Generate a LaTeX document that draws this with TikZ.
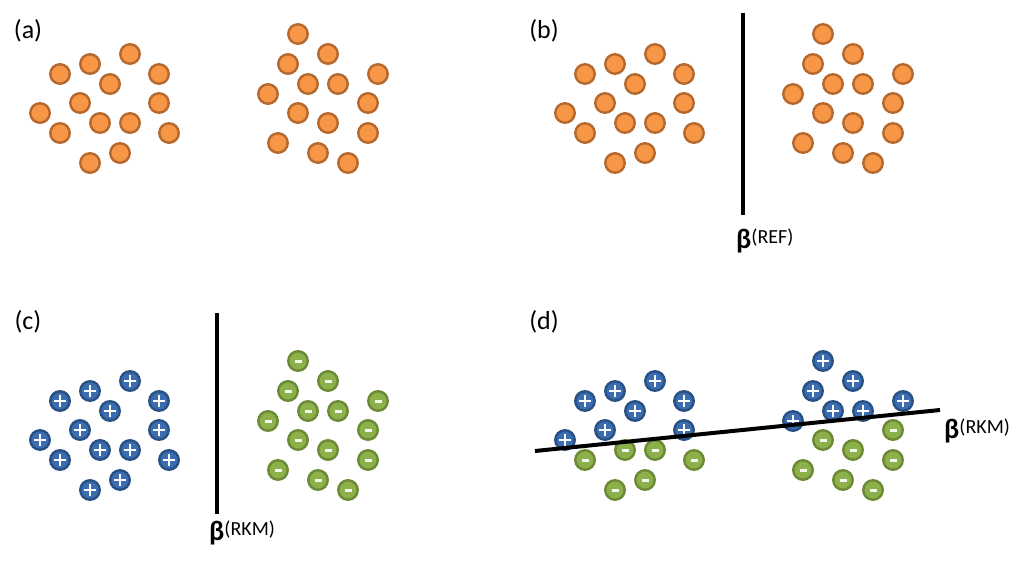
\documentclass[tikz,border=0pt]{standalone}
\usepackage{fontspec}
\setmainfont{Carlito}
\definecolor{ballfill}{HTML}{F79646}
\definecolor{balledge}{HTML}{B5692E}
\definecolor{posfill}{HTML}{3C6DB1}
\definecolor{posedge}{HTML}{2A5183}
\definecolor{negfill}{HTML}{8DB14A}
\definecolor{negedge}{HTML}{6C8A35}
\tikzset{
	ball/.style={circle, inner sep=0pt, minimum size=19.5pt, line width=2.4pt},
	plainball/.style={ball, draw=balledge, fill=ballfill},
	posball/.style={ball, draw=posedge, fill=posfill, path picture={
		\draw[white, line width=2.4pt] ([xshift=-5.8pt]path picture bounding box.center) -- ([xshift=5.8pt]path picture bounding box.center)
		([yshift=-5.8pt]path picture bounding box.center) -- ([yshift=5.8pt]path picture bounding box.center);}},
	negball/.style={ball, draw=negedge, fill=negfill, path picture={
		\draw[white!90!negfill, line width=3pt] ([xshift=-3.5pt]path picture bounding box.center) -- ([xshift=3.5pt]path picture bounding box.center);}},
	tag/.style={font=\fontsize{26}{26}\selectfont, inner sep=0pt},
	betatag/.style={anchor=base west, inner sep=0pt},
	sep/.style={line width=4pt},
}
\newcommand{\betalabel}[1]{{\fontsize{28}{28}\selectfont\bfseries β}\raisebox{5pt}{\fontsize{20}{20}\selectfont(#1)}}
% the two point clouds, pixel positions of panel (a)
\def\leftgroup{130/54, 90/64, 60/74, 159/74, 110/84, 80/103, 159/103, 40/113, 100/123, 130/123, 60/133, 169/133, 120/153, 90/163}
\def\rightgroup{298/34, 328/54, 288/64, 378/74, 308/84, 338/84, 268/94, 368/103, 298/113, 328/123, 368/133, 278/143, 318/153, 348/163}
\begin{document}
\begin{tikzpicture}[x=1pt, y=-1pt]
	\useasboundingbox (0,0) rectangle (1024,567);
	% (a)
	\node[tag] (tag-a) at (28,31) {(a)};
	\foreach \x/\y [count=\i] in \leftgroup {\node[plainball] (a-l-\i) at (\x,\y) {};}
	\foreach \x/\y [count=\i] in \rightgroup {\node[plainball] (a-r-\i) at (\x,\y) {};}
	% (b)
	\begin{scope}[shift={(525,0)}]
		\node[tag] (tag-b) at (19,31) {(b)};
		\foreach \x/\y [count=\i] in \leftgroup {\node[plainball] (b-l-\i) at (\x,\y) {};}
		\foreach \x/\y [count=\i] in \rightgroup {\node[plainball] (b-r-\i) at (\x,\y) {};}
		\coordinate (refTop) at (218,13);
		\coordinate (refBot) at (218,215);
		\draw[sep] (refTop) -- (refBot);
		\node[betatag] (refLabel) at (211,248) {\betalabel{REF}};
	\end{scope}
	% (c)
	\begin{scope}[shift={(0,327)}]
		\node[tag] (tag-c) at (28,-5) {(c)};
		\foreach \x/\y [count=\i] in \leftgroup {\node[posball] (c-l-\i) at (\x,\y) {};}
		\foreach \x/\y [count=\i] in \rightgroup {\node[negball] (c-r-\i) at (\x,\y) {};}
		\coordinate (rkmTop) at (217,-14);
		\coordinate (rkmBot) at (217,187);
		\draw[sep] (rkmTop) -- (rkmBot);
		\node[betatag] (rkmLabel) at (209,213) {\betalabel{RKM}};
	\end{scope}
	% (d)
	\begin{scope}[shift={(525,327)}]
		\node[tag] (tag-d) at (19,-5) {(d)};
		\foreach \x/\y [count=\i] in \leftgroup {
			\ifnum\i<9 \node[posball] (d-l-\i) at (\x,\y) {}; \else \node[negball] (d-l-\i) at (\x,\y) {}; \fi}
		\foreach \x/\y [count=\i] in \rightgroup {
			\ifnum\i<8 \node[posball] (d-r-\i) at (\x,\y) {}; \else \node[negball] (d-r-\i) at (\x,\y) {}; \fi}
		\coordinate (slopeA) at (10,124);
		\coordinate (slopeB) at (415,83);
		\draw[sep] (slopeA) -- (slopeB);
		\node[betatag] (slopeLabel) at (419,111) {\betalabel{RKM}};
	\end{scope}
\end{tikzpicture}
\end{document}
